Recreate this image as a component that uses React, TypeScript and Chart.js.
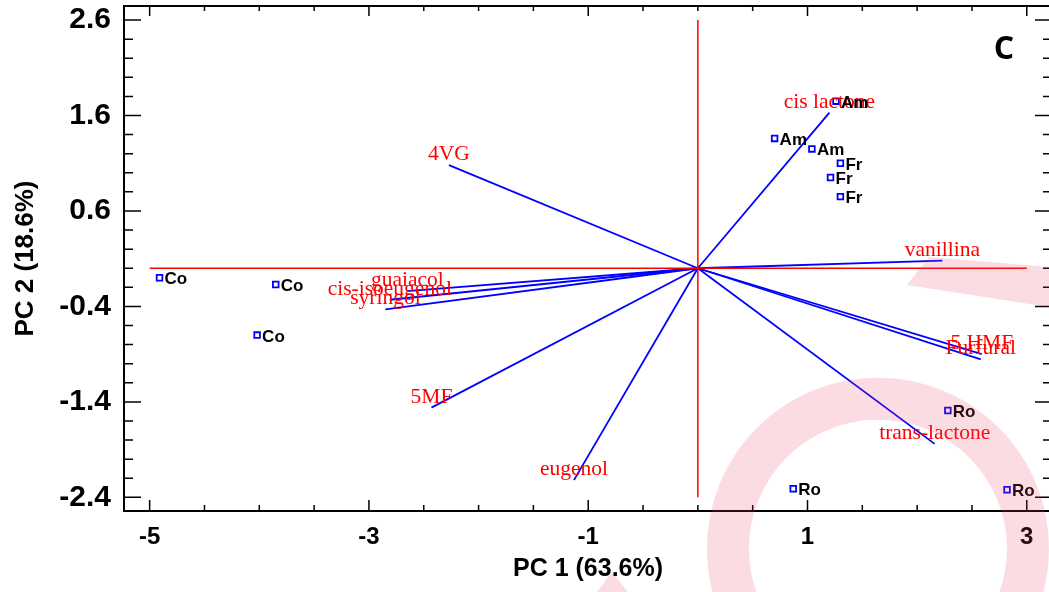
import { useEffect, useRef } from "react";
import { Chart, registerables } from "chart.js";

Chart.register(...registerables);

// ---- data ----
const scoreLabels = ["Co", "Co", "Co", "Am", "Am", "Am", "Fr", "Fr", "Fr", "Ro", "Ro", "Ro"];
const scoreX = [-4.91, -3.85, -4.02, 1.26, 0.7, 1.04, 1.3, 1.21, 1.3, 2.28, 0.87, 2.82];
const scoreY = [-0.1, -0.17, -0.7, 1.75, 1.36, 1.25, 1.1, 0.95, 0.75, -1.49, -2.31, -2.32];

const loadingNames = [
  "cis lactone",
  "4VG",
  "guaiacol",
  "cis-isoeugenol",
  "syringol",
  "5MF",
  "eugenol",
  "vanillina",
  "5 HMF",
  "Furfural",
  "trans-lactone",
];
const loadingX = [1.2, -2.27, -2.65, -2.81, -2.85, -2.43, -1.13, 2.23, 2.59, 2.58, 2.16];
const loadingY = [1.63, 1.08, -0.24, -0.33, -0.43, -1.46, -2.22, 0.08, -0.9, -0.955, -1.84];

const xTicks = [-5, -3, -1, 1, 3];
const yTicks = [2.6, 1.6, 0.6, -0.4, -1.4, -2.4];
const xMinorStep = 0.5;
const yMinorStep = 0.2;
const xTitle = "PC 1 (63.6%)";
const yTitle = "PC 2 (18.6%)";
const panelLetter = "C";

const SANS = "'Liberation Sans', Arial, sans-serif";
const SERIF = "'Liberation Serif', 'Times New Roman', serif";

function minorValues(majors: number[], step: number) {
  const lo = Math.min(...majors);
  const hi = Math.max(...majors);
  const out: number[] = [];
  const n = Math.round((hi - lo) / step);
  for (let i = 0; i <= n; i++) {
    const v = lo + i * step;
    if (!majors.some((m) => Math.abs(m - v) < 1e-6)) out.push(v);
  }
  return out;
}

const decorPlugin = {
  id: "decor",
  afterDatasetsDraw(chart: any) {
    const ctx = chart.ctx as CanvasRenderingContext2D;
    const xs = chart.scales.x;
    const ys = chart.scales.y;
    const { left, right, top, bottom } = chart.chartArea;
    ctx.save();

    // loading labels
    ctx.fillStyle = "#ff0000";
    ctx.font = `21.5px ${SERIF}`;
    ctx.textAlign = "center";
    ctx.textBaseline = "alphabetic";
    loadingNames.forEach((name, i) => {
      const px = xs.getPixelForValue(loadingX[i]);
      const py = ys.getPixelForValue(loadingY[i]);
      ctx.fillText(name, px, py - 5);
    });

    // score labels
    ctx.fillStyle = "#000";
    ctx.font = `bold 17px ${SANS}`;
    ctx.textAlign = "left";
    scoreLabels.forEach((lab, i) => {
      const px = xs.getPixelForValue(scoreX[i]);
      const py = ys.getPixelForValue(scoreY[i]);
      ctx.fillText(lab, px + 5, py + 6.5);
    });

    // frame
    ctx.strokeStyle = "#000";
    ctx.lineWidth = 2;
    ctx.strokeRect(left, top, right - left, bottom - top);

    // ticks (inward, all four sides)
    ctx.lineWidth = 1.5;
    ctx.beginPath();
    const xMin = minorValues(xTicks, xMinorStep);
    const yMin = minorValues(yTicks, yMinorStep);
    xTicks.forEach((v) => {
      const p = xs.getPixelForValue(v);
      ctx.moveTo(p, bottom);
      ctx.lineTo(p, bottom - 11);
      ctx.moveTo(p, top);
      ctx.lineTo(p, top + 10);
    });
    xMin.forEach((v) => {
      const p = xs.getPixelForValue(v);
      ctx.moveTo(p, bottom);
      ctx.lineTo(p, bottom - 6);
      ctx.moveTo(p, top);
      ctx.lineTo(p, top + 5);
    });
    yTicks.forEach((v) => {
      const p = ys.getPixelForValue(v);
      ctx.moveTo(left, p);
      ctx.lineTo(left + 17, p);
      ctx.moveTo(right, p);
      ctx.lineTo(right - 17, p);
    });
    yMin.forEach((v) => {
      const p = ys.getPixelForValue(v);
      ctx.moveTo(left, p);
      ctx.lineTo(left + 9, p);
      ctx.moveTo(right, p);
      ctx.lineTo(right - 9, p);
    });
    ctx.stroke();

    // panel letter
    ctx.fillStyle = "#000";
    ctx.font = `bold 32px 'Open Sans', ${SANS}`;
    ctx.textAlign = "center";
    ctx.textBaseline = "middle";
    ctx.fillText(panelLetter, right - 48, top + 44);
    ctx.restore();
  },
  afterDraw(chart: any) {
    // pink watermark overlay
    const ctx = chart.ctx as CanvasRenderingContext2D;
    const W = chart.width;
    const H = chart.height;
    ctx.save();
    ctx.fillStyle = "rgba(240,60,100,0.18)";
    ctx.strokeStyle = "rgba(240,60,100,0.18)";
    // ring
    ctx.lineWidth = 42;
    ctx.beginPath();
    ctx.arc(W * 0.8267, H * 0.927, 150, 0, Math.PI * 2);
    ctx.stroke();
    // wedge
    ctx.beginPath();
    ctx.moveTo(907, 285);
    ctx.lineTo(929, 257);
    ctx.lineTo(1062, 268);
    ctx.lineTo(1062, 309);
    ctx.closePath();
    ctx.fill();
    // small triangle at bottom
    ctx.beginPath();
    ctx.moveTo(597, H);
    ctx.lineTo(612, H - 20);
    ctx.lineTo(628, H);
    ctx.closePath();
    ctx.fill();
    ctx.restore();
  },
};

export default function App() {
  const ref = useRef<HTMLCanvasElement | null>(null);
  useEffect(() => {
    document.body.style.margin = "0";
    const canvas = ref.current!;
    const xEnds = [xTicks[0], xTicks[xTicks.length - 1]];
    const yEnds = [yTicks[0], yTicks[yTicks.length - 1]];
    const datasets: any[] = [
      {
        type: "line",
        data: xEnds.map((x) => ({ x, y: 0 })),
        borderColor: "#ff0000",
        borderWidth: 1.5,
        pointRadius: 0,
        showLine: true,
      },
      {
        type: "line",
        data: yEnds.map((y) => ({ x: 0, y })),
        borderColor: "#ff0000",
        borderWidth: 1.5,
        pointRadius: 0,
        showLine: true,
      },
      ...loadingNames.map((_, i) => ({
        type: "line",
        data: [
          { x: 0, y: 0 },
          { x: loadingX[i], y: loadingY[i] },
        ],
        borderColor: "#0000ff",
        borderWidth: 1.8,
        pointRadius: 0,
        showLine: true,
      })),
      {
        type: "scatter",
        data: scoreX.map((x, i) => ({ x, y: scoreY[i] })),
        pointStyle: "rect",
        pointRadius: 4,
        borderColor: "#0000ff",
        backgroundColor: "rgba(255,255,255,0)",
        borderWidth: 1.8,
      },
    ];
    const chart = new Chart(canvas, {
      type: "scatter",
      data: { datasets },
      options: {
        animation: false,
        responsive: false,
        maintainAspectRatio: false,
        layout: { padding: { top: 6, right: 10, left: 0, bottom: 0 } },
        plugins: { legend: { display: false }, tooltip: { enabled: false } },
        scales: {
          x: {
            type: "linear",
            min: -5.234,
            max: 3.23,
            afterBuildTicks: (s: any) => {
              s.ticks = xTicks.map((v) => ({ value: v }));
            },
            afterFit: (s: any) => {
              s.height = 81;
              s.paddingLeft = 0;
              s.paddingRight = 0;
            },
            grid: { display: false, drawTicks: false },
            border: { display: false },
            ticks: {
              autoSkip: false,
              maxRotation: 0,
              padding: 12,
              color: "#000",
              font: { family: SANS, size: 24, weight: "bold" },
              callback: (v: any) => String(v),
            },
            title: {
              display: true,
              text: xTitle,
              color: "#000",
              font: { family: SANS, size: 25, weight: "bold" },
              padding: { top: 0, bottom: 8 },
            },
          },
          y: {
            type: "linear",
            min: -2.543,
            max: 2.747,
            afterBuildTicks: (s: any) => {
              s.ticks = yTicks.map((v) => ({ value: v }));
            },
            afterFit: (s: any) => {
              s.width = 124;
              s.paddingTop = 0;
              s.paddingBottom = 0;
            },
            grid: { display: false, drawTicks: false },
            border: { display: false },
            ticks: {
              autoSkip: false,
              padding: 13,
              color: "#000",
              font: { family: SANS, size: 30, weight: "bold" },
              callback: (v: any) => Number(v).toFixed(1),
            },
            title: {
              display: true,
              text: yTitle,
              color: "#000",
              font: { family: SANS, size: 26, weight: "bold" },
              padding: { top: 10, bottom: 0 },
            },
          },
        },
      },
      plugins: [decorPlugin],
    } as any);
    return () => chart.destroy();
  }, []);
  return (
    <div style={{ width: 1049, height: 592, overflow: "hidden", background: "#fff" }}>
      <canvas ref={ref} width={1062} height={592} style={{ display: "block" }} />
    </div>
  );
}
